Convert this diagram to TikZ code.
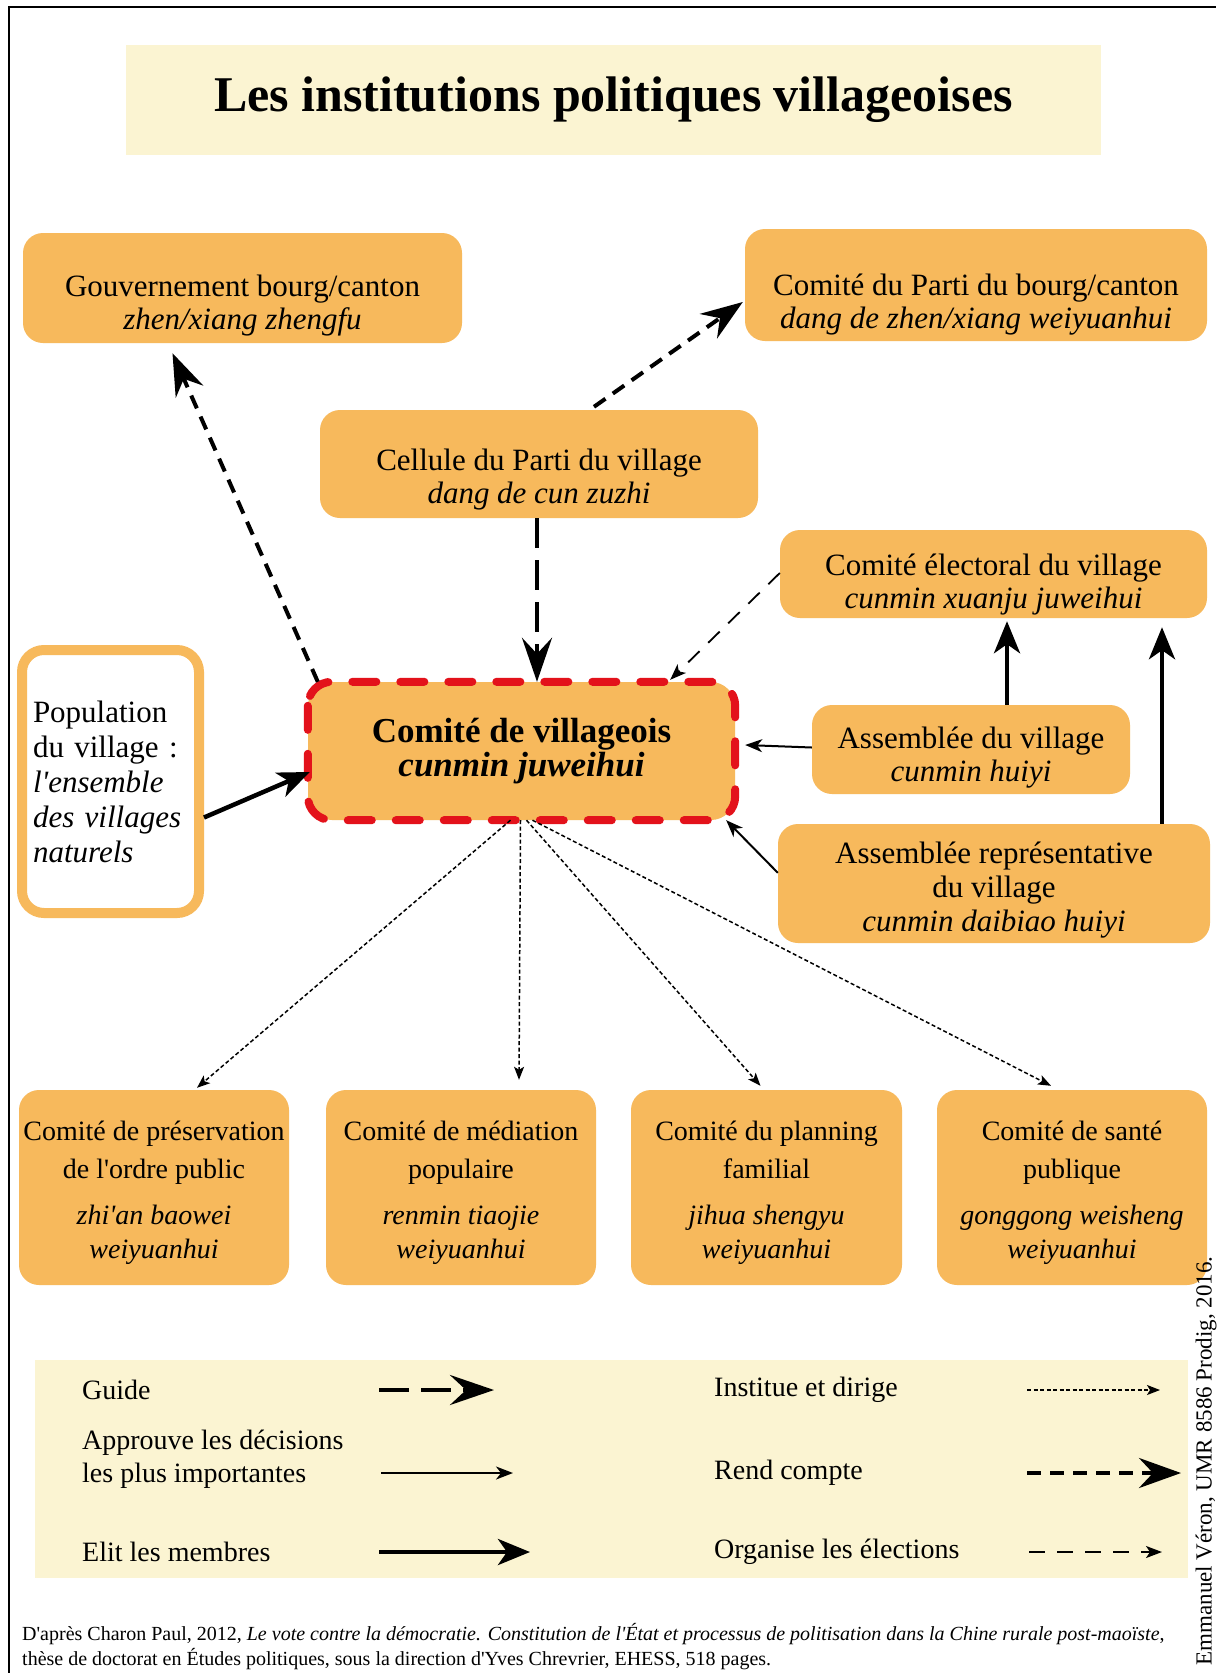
\documentclass[tikz,border=0pt]{standalone}
\usepackage{fontspec}
\setmainfont{Liberation Serif}[Ligatures=TeXOff]
\usetikzlibrary{arrows.meta,calc}
\definecolor{boxor}{HTML}{F7B95C}
\definecolor{pale}{HTML}{FBF4D2}
\definecolor{redd}{HTML}{E3121B}
\begin{document}
\begin{tikzpicture}[x=1pt,y=-1pt,
  obox/.style={fill=boxor, rounded corners=20pt, inner sep=0pt},
  otext/.style={align=center, inner sep=0pt, font=\fontsize{31}{33}\selectfont},
  btext/.style={align=center, inner sep=0pt, font=\fontsize{28}{38}\selectfont},
  legtext/.style={anchor=west, inner sep=0pt, align=left, font=\fontsize{28}{33}\selectfont},
  rend/.style={line width=4pt, dash pattern=on 14pt off 9pt, -{Stealth[length=42pt,width=30pt,inset=14pt]}},
  guide/.style={line width=4.5pt, dash pattern=on 30pt off 12pt, -{Stealth[length=44pt,width=30pt,inset=16pt]}},
  elit/.style={line width=4.5pt, -{Stealth[length=32pt,width=26pt,inset=9pt]}},
  appr/.style={line width=2pt, -{Stealth[length=17pt,width=13pt,inset=5pt]}},
  inst/.style={line width=1.5pt, dash pattern=on 4pt off 2.5pt, -{Stealth[length=13pt,width=10pt,inset=3pt]}},
  org/.style={line width=1.8pt, dash pattern=on 16pt off 12pt, -{Stealth[length=16pt,width=12pt,inset=4pt]}}
]
\useasboundingbox (0,0) rectangle (1216,1673);
\fill[white] (0,0) rectangle (1216,1673);
\draw[line width=2.5pt] (9,1673) -- (9,7) -- (1216,7);

% title
\node[fill=pale, minimum width=975, minimum height=110, inner sep=0pt,
      font=\fontsize{50}{60}\selectfont\bfseries] (title) at (613.5,100) {Les institutions politiques villageoises};

% boxes
\node[obox, minimum width=439, minimum height=110] (gouv) at (242.5,288) {};
\node[otext] (gouvt) at ($(gouv)+(0,18)$) {Gouvernement bourg/canton\\\textit{zhen/xiang zhengfu}};
\node[obox, minimum width=462, minimum height=112] (cpb) at (976,285) {};
\node[otext] (cpbt) at ($(cpb)+(0,20)$) {Comité du Parti du bourg/canton\\\textit{dang de zhen/xiang weiyuanhui}};
\node[obox, minimum width=438, minimum height=108] (cell) at (539,464) {};
\node[otext] (cellt) at ($(cell)+(0,16)$) {Cellule du Parti du village\\\textit{dang de cun zuzhi}};
\node[obox, minimum width=427, minimum height=88] (elec) at (993.5,574) {};
\node[otext] (elect) at ($(elec)+(0,11)$) {Comité électoral du village\\\textit{cunmin xuanju juweihui}};
\node[obox, minimum width=318, minimum height=89] (asv) at (971,749.5) {};
\node[otext] (asvt) at ($(asv)+(0,8)$) {Assemblée du village\\\textit{cunmin huiyi}};
\node[obox, minimum width=432, minimum height=119] (asr) at (994,883.5) {};
\node[otext, font=\fontsize{31}{34}\selectfont] (asrt) at ($(asr)+(0,7)$) {Assemblée représentative\\du village\\\textit{cunmin daibiao huiyi}};

% central
\node[fill=boxor, rounded corners=24pt, minimum width=427, minimum height=138, inner sep=0pt] (central) at (521.5,751) {};
\draw[redd, line width=8pt, dash pattern=on 24pt off 24pt, line cap=round, rounded corners=24pt]
  (central.north west) rectangle (central.south east);
\node[align=center, inner sep=0pt, font=\fontsize{35}{34}\selectfont\bfseries] (centralt) at ($(central)+(0,0)$)
  {Comité de villageois\\\textit{cunmin juweihui}};

% population
\node[draw=boxor, line width=10pt, fill=white, rounded corners=22pt, minimum width=177, minimum height=263,
      inner sep=0pt, text width=155pt, align=left, font=\fontsize{31}{35}\selectfont] (pop) at (110.5,781.5)
  {Population\\du village :\\\textit{l'ensemble}\\\textit{des villages}\\\textit{naturels}};

% bottom boxes
\node[obox, minimum width=270, minimum height=195] (b1) at (154,1187.5) {};
\node[btext] (b1t) at ($(b1)+(0,5)$) {Comité de préservation\\de l'ordre public\\[8pt]\textit{zhi'an baowei}\\[-4pt]\textit{weiyuanhui}};
\node[obox, minimum width=270, minimum height=195] (b2) at (461,1187.5) {};
\node[btext] (b2t) at ($(b2)+(0,5)$) {Comité de médiation\\populaire\\[8pt]\textit{renmin tiaojie}\\[-4pt]\textit{weiyuanhui}};
\node[obox, minimum width=271, minimum height=195] (b3) at (766.5,1187.5) {};
\node[btext] (b3t) at ($(b3)+(0,5)$) {Comité du planning\\familial\\[8pt]\textit{jihua shengyu}\\[-4pt]\textit{weiyuanhui}};
\node[obox, minimum width=270, minimum height=195] (b4) at (1072,1187.5) {};
\node[btext] (b4t) at ($(b4)+(0,5)$) {Comité de santé\\publique\\[8pt]\textit{gonggong weisheng}\\[-4pt]\textit{weiyuanhui}};

% connectors
\draw[rend] ($(central.north west)+(10,0)$) -- ($(gouv.south)+(-70,10)$);
\draw[rend] ($(cell.north)+(55,-3)$) -- ($(cpb.west)+(-2,17)$);
\draw[guide] ($(cell.south)+(-2,0)$) -- ($(central.north)+(15.5,0)$);
\draw[org] ($(elec.west)+(0,-1)$) -- ($(central.north east)+(-65,-2)$);
\draw[elit] ($(pop.east)+(0,36)$) -- ($(central.west)+(2,21)$);
\draw[elit] ($(asv.north)+(36,0)$) -- ($(elec.south)+(13.5,3)$);
\draw[elit] ($(asr.north)+(168,0)$) -- ($(elec.south)+(168.5,9)$);
\draw[appr] ($(asv.west)+(0,-2)$) -- ($(central.east)+(10,-6)$);
\draw[appr] ($(asr.north west)+(0,49)$) -- ($(central.south east)+(-9,0)$);
\draw[inst] ($(central.south)+(-11,0)$) -- ($(b1.north)+(43,-2)$);
\draw[inst] ($(central.south)+(-1,0)$) -- ($(b2.north)+(58,-10)$);
\draw[inst] ($(central.south)+(5,0)$) -- ($(b3.north)+(-6,-4)$);
\draw[inst] ($(central.south)+(11,0)$) -- ($(b4.north)+(-21,-4)$);

% legend
\node[fill=pale, minimum width=1153, minimum height=218, inner sep=0pt] (legend) at (611.5,1469) {};
\node[legtext] (lguide) at (82,1390) {Guide};
\node[legtext] (lappr) at (82,1459) {Approuve les décisions\\les plus importantes};
\node[legtext] (lelit) at (82,1552) {Elit les membres};
\node[legtext] (linst) at (714,1390) {Institue et dirige};
\node[legtext] (lrend) at (714,1473) {Rend compte};
\node[legtext] (lorg) at (714,1552) {Organise les élections};
\coordinate (g1) at (379,1390); \coordinate (g2) at (494,1390);
\coordinate (a1) at (381,1473); \coordinate (a2) at (513,1473);
\coordinate (e1) at (379,1552); \coordinate (e2) at (530,1552);
\coordinate (i1) at (1027,1390); \coordinate (i2) at (1160,1390);
\coordinate (r1) at (1027,1473); \coordinate (r2) at (1181,1473);
\coordinate (o1) at (1029,1552); \coordinate (o2) at (1162,1552);
\draw[guide] (g1) -- (g2);
\draw[appr] (a1) -- (a2);
\draw[elit] (e1) -- (e2);
\draw[inst] (i1) -- (i2);
\draw[rend] (r1) -- (r2);
\draw[org] (o1) -- (o2);

% footer
\node[anchor=base west, inner sep=0pt, align=left, font=\fontsize{20}{25}\selectfont] (foot) at (22,1665)
  {D'après Charon Paul, 2012, \textit{Le vote contre la démocratie. Constitution de l'État et processus de politisation dans la Chine rurale post-maoïste},\\
   thèse de doctorat en Études politiques, sous la direction d'Yves Chrevrier, EHESS, 518 pages.};
\node[rotate=90, inner sep=0pt, font=\fontsize{23}{27}\selectfont] (credit) at (1206,1461)
  {Emmanuel Véron, UMR 8586 Prodig, 2016.};
\end{tikzpicture}
\end{document}
